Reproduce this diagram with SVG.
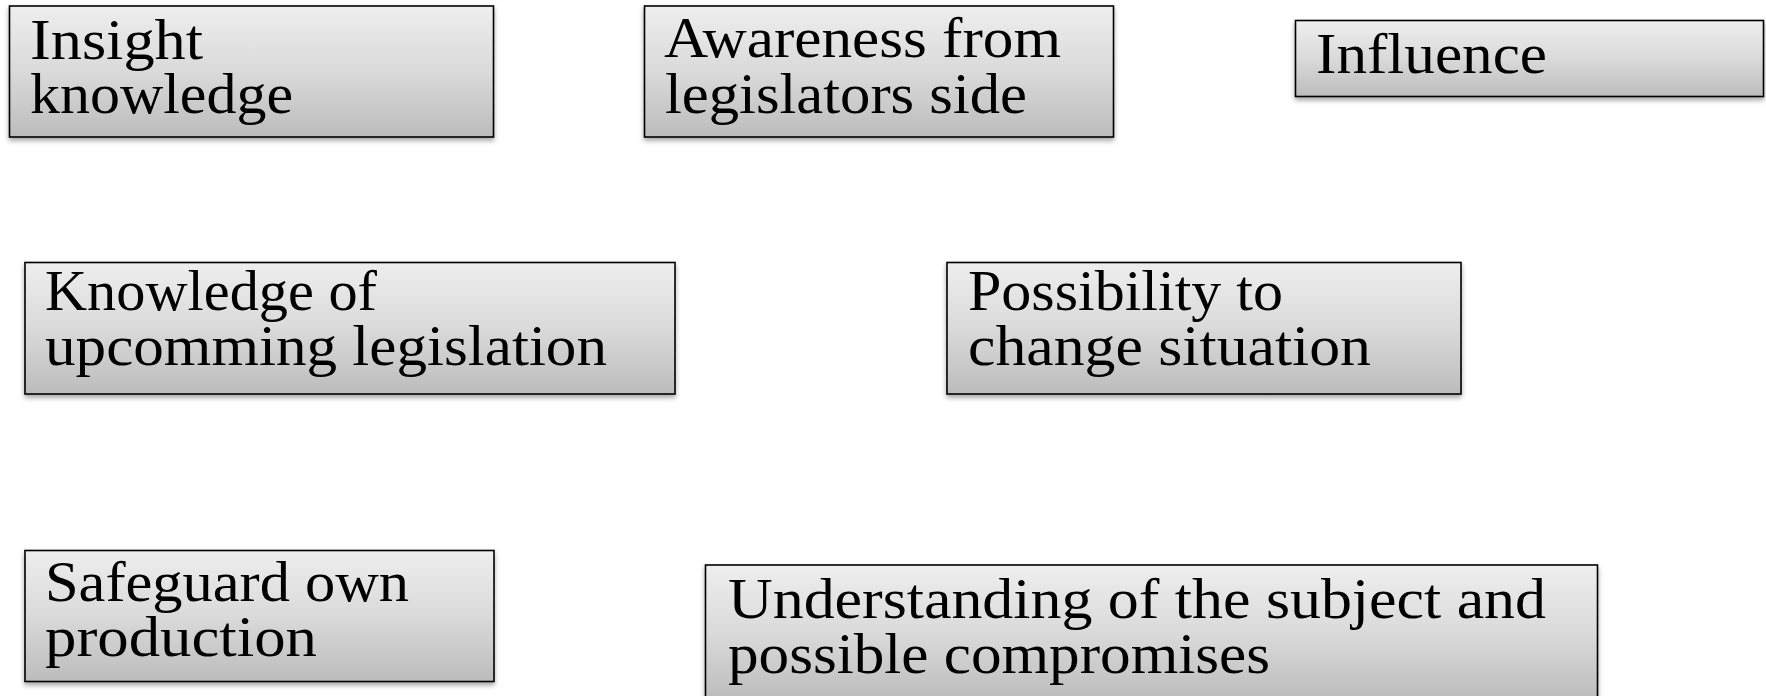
<svg xmlns="http://www.w3.org/2000/svg" width="1766" height="696" viewBox="0 0 1766 696">
<defs>
<linearGradient id="g" x1="0" y1="0" x2="0" y2="1">
<stop offset="0" stop-color="#eeeeee"/>
<stop offset="0.5" stop-color="#dadada"/>
<stop offset="1" stop-color="#bcbcbc"/>
</linearGradient>
<filter id="sh" x="-5%" y="-10%" width="110%" height="130%">
<feDropShadow dx="0" dy="3" stdDeviation="2.5" flood-color="#000" flood-opacity="0.35"/>
</filter>
</defs>
<style>
.box{fill:url(#g);stroke:#000;stroke-width:1.6;filter:url(#sh)}
.t{font-family:"Liberation Serif","DejaVu Serif",serif;font-size:56px;fill:#000}
</style>
<rect width="1766" height="696" fill="#fff"/>
<g id="connectors"/>
<g id="insight">
<rect class="box" x="9.5" y="6" width="484" height="131"/>
<text class="t" x="30" y="59" textLength="173" lengthAdjust="spacingAndGlyphs">Insight</text>
<text class="t" x="30" y="113" textLength="263" lengthAdjust="spacingAndGlyphs">knowledge</text>
</g>
<g id="awareness">
<rect class="box" x="644.5" y="6" width="469" height="131"/>
<text class="t" x="664" y="57" textLength="397" lengthAdjust="spacingAndGlyphs">Awareness from</text>
<text class="t" x="665" y="113" textLength="362" lengthAdjust="spacingAndGlyphs">legislators side</text>
</g>
<g id="influence">
<rect class="box" x="1295.5" y="20.5" width="468" height="76"/>
<text class="t" x="1316" y="73" textLength="231" lengthAdjust="spacingAndGlyphs">Influence</text>
</g>
<g id="knowledge">
<rect class="box" x="25" y="262.5" width="650" height="131.5"/>
<text class="t" x="45" y="310" textLength="332" lengthAdjust="spacingAndGlyphs">Knowledge of</text>
<text class="t" x="45" y="365" textLength="562" lengthAdjust="spacingAndGlyphs">upcomming legislation</text>
</g>
<g id="possibility">
<rect class="box" x="947" y="262.5" width="514" height="131.5"/>
<text class="t" x="968" y="310" textLength="315" lengthAdjust="spacingAndGlyphs">Possibility to</text>
<text class="t" x="968" y="365" textLength="403" lengthAdjust="spacingAndGlyphs">change situation</text>
</g>
<g id="safeguard">
<rect class="box" x="25" y="550.5" width="469" height="131"/>
<text class="t" x="45" y="601" textLength="364" lengthAdjust="spacingAndGlyphs">Safeguard own</text>
<text class="t" x="45" y="656" textLength="272" lengthAdjust="spacingAndGlyphs">production</text>
</g>
<g id="understanding">
<rect class="box" x="705.5" y="565" width="892" height="136"/>
<text class="t" x="728" y="618" textLength="818" lengthAdjust="spacingAndGlyphs">Understanding of the subject and</text>
<text class="t" x="728" y="673" textLength="542" lengthAdjust="spacingAndGlyphs">possible compromises</text>
</g>
</svg>
